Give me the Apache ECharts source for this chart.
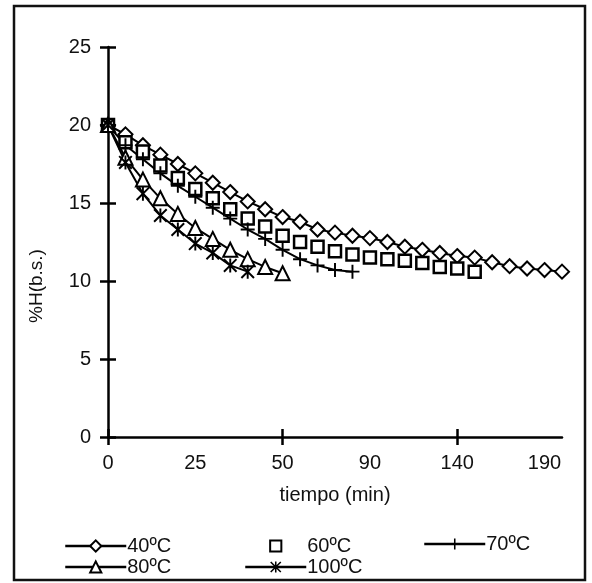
<!DOCTYPE html>
<html>
<head>
<meta charset="utf-8">
<script src="https://cdn.jsdelivr.net/npm/echarts@6/dist/echarts.min.js"></script>
<style>html,body{margin:0;padding:0;background:#fff}#c{width:592px;height:583px}</style>
</head>
<body>
<div id="c"></div>
<script>
var categories = ['0','5','10','15','20','25','30','35','40','45','50','55','60','70','80','90','100','110','120','130','140','150','160','170','180','190','200'];
var s40 = [20,19.4,18.7,18.1,17.5,16.9,16.3,15.7,15.1,14.6,14.1,13.8,13.3,13.1,12.9,12.75,12.5,12.2,12.0,11.8,11.6,11.5,11.2,10.95,10.8,10.7,10.6];
var s60 = [20,18.9,18.3,17.4,16.6,15.9,15.3,14.6,14.0,13.5,12.9,12.5,12.2,11.9,11.7,11.5,11.4,11.3,11.15,10.9,10.8,10.6];
var s70 = [20,18.7,17.8,16.9,16.1,15.4,14.7,14.0,13.3,12.7,12.0,11.4,11.0,10.7,10.6];
var s80 = [20,17.9,16.5,15.3,14.3,13.4,12.7,12.0,11.4,10.9,10.5];
var s100 = [20,17.6,15.6,14.2,13.3,12.4,11.8,11.0,10.6];
var yTicks = {min:0, max:25, interval:5};
var names = ['40ºC','60ºC','70ºC','80ºC','100ºC'];

var plusPath = 'path://M5.6,0H7.4V5.6H13V7.4H7.4V13H5.6V7.4H0V5.6H5.6Z';
var starPath = 'path://M5.6,0H7.4V13H5.6Z M0,1.3L1.3,0L13,11.7L11.7,13Z M11.7,0L13,1.3L1.3,13L0,11.7Z';
var font = 'Liberation Sans';

function ser(name, data, symbol, size, line, borderW, filled) {
  return {
    name: name, type: 'line', data: data, xAxisIndex: 0, yAxisIndex: 0,
    symbol: symbol, symbolSize: size, showAllSymbol: true,
    lineStyle: {color: '#000', width: line ? 2 : 0, opacity: line ? 1 : 0},
    itemStyle: {color: filled ? '#000' : '#fff', borderColor: '#000', borderWidth: borderW},
    emphasis: {disabled: true}, animation: false, z: 3
  };
}

var chart = echarts.init(document.getElementById('c'), null, {renderer: 'canvas'});
var axisLbl = {color: '#111', fontFamily: font, fontSize: 20};
var tickIv = function (i) { return i % 10 === 0; };
chart.setOption({
  backgroundColor: '#fff',
  animation: false,
  grid: {left: 108, top: 47, width: 454, height: 390, containLabel: false},
  xAxis: [{
    type: 'category', data: categories, boundaryGap: false, position: 'bottom',
    axisLine: {lineStyle: {color: '#000', width: 2.5}},
    axisTick: {show: true, length: 8, lineStyle: {color: '#000', width: 2.5}, interval: tickIv},
    axisLabel: Object.assign({interval: 4, margin: 16}, axisLbl),
    splitLine: {show: false},
    name: 'tiempo (min)', nameLocation: 'middle', nameGap: 48,
    nameTextStyle: {color: '#111', fontFamily: font, fontSize: 20}
  }, {
    type: 'category', data: categories, boundaryGap: false, position: 'bottom',
    axisLine: {show: false},
    axisTick: {show: true, inside: true, length: 8, lineStyle: {color: '#000', width: 2.5}, interval: tickIv},
    axisLabel: {show: false}, splitLine: {show: false}
  }],
  yAxis: [{
    type: 'value', min: yTicks.min, max: yTicks.max, interval: yTicks.interval, position: 'left',
    axisLine: {show: true, lineStyle: {color: '#000', width: 2.5}},
    axisTick: {show: true, length: 8, lineStyle: {color: '#000', width: 2.5}},
    axisLabel: Object.assign({margin: 17}, axisLbl),
    splitLine: {show: false}
  }, {
    type: 'value', min: yTicks.min, max: yTicks.max, interval: yTicks.interval, position: 'left',
    axisLine: {show: false},
    axisTick: {show: true, inside: true, length: 8, lineStyle: {color: '#000', width: 2.5}},
    axisLabel: {show: false}, splitLine: {show: false}
  }],
  legend: [
    {data: [names[0]], left: 64, top: 536},
    {data: [names[1]], left: 244, top: 536},
    {data: [names[2]], left: 423, top: 534},
    {data: [names[3]], left: 64, top: 557},
    {data: [names[4]], left: 244, top: 557}
  ].map(function (l) {
    return Object.assign({itemWidth: 61, itemHeight: 14, itemGap: 0, selectedMode: false, padding: 0,
      lineStyle: {width: 2.5},
      textStyle: {color: '#111', fontFamily: font, fontSize: 20, padding: [0, 0, 0, -4]}}, l);
  }),
  graphic: [
    {type: 'rect', shape: {x: 14, y: 6, width: 571, height: 574}, style: {fill: 'none', stroke: '#111', lineWidth: 2.5}, silent: true},
    {type: 'text', x: 37, y: 286, rotation: Math.PI / 2, style: {text: '%H(b.s.)', fill: '#111', font: '19px "Liberation Sans"', align: 'center', verticalAlign: 'middle'}, silent: true}
  ],
  series: [
    ser(names[0], s40, 'diamond', 14, true, 2, false),
    ser(names[1], s60, 'rect', 12, false, 2.5, false),
    ser(names[2], s70, plusPath, 14, true, 0, true),
    ser(names[3], s80, 'triangle', 14, true, 2, false),
    ser(names[4], s100, starPath, 14, true, 0, true)
  ]
});
</script>
</body>
</html>
